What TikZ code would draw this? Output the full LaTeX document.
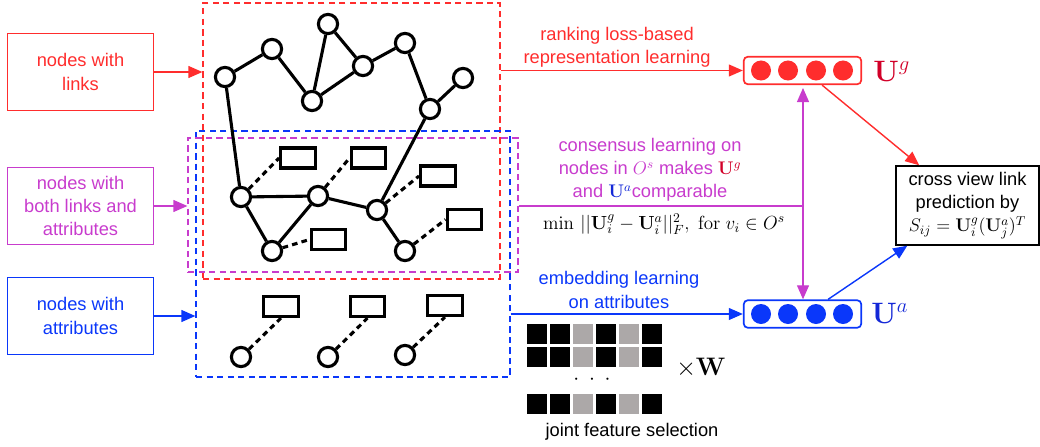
\RequirePackage{fix-cm}
\documentclass[tikz,border=0pt]{standalone}
\usepackage[no-math]{fontspec}
\setmainfont{Liberation Sans}
\usetikzlibrary{positioning}
\usetikzlibrary{arrows.meta}

\definecolor{linkred}{RGB}{255,45,45}
\definecolor{bothpink}{RGB}{200,60,205}
\definecolor{attrblue}{RGB}{10,55,250}
\definecolor{ugred}{RGB}{210,0,40}
\definecolor{uablue}{RGB}{20,40,215}
\definecolor{featgray}{RGB}{172,168,168}

\begin{document}
\begin{tikzpicture}[x=0.025cm, y=-0.025cm, every node/.style={font=\fontsize{13}{16.5}\selectfont},
    viewbox/.style={draw, line width=1.1pt, minimum width=3.65cm, minimum height=1.925cm, align=center, inner sep=0pt},
    region/.style={draw, line width=0.8pt, dash pattern=on 4.5pt off 3pt, inner sep=0pt},
    vert/.style={circle, draw, fill=white, line width=2.2pt, minimum size=0.48cm, inner sep=0pt},
    attr/.style={draw, fill=white, line width=2.2pt, minimum width=0.87cm, minimum height=0.5cm, inner sep=0pt},
    edge/.style={line width=2.2pt},
    attrlink/.style={line width=2.2pt, dash pattern=on 4pt off 3pt},
    flow/.style={line width=1pt, -{Triangle[length=10pt, width=8.5pt]}},
    vecbox/.style={draw, rounded corners=3pt, line width=1.2pt, minimum width=2.94cm, minimum height=0.69cm, inner sep=0pt},
    vecdot/.style={circle, minimum size=0.5cm, inner sep=0pt},
    veclbl/.style={font=\fontsize{21}{21}\selectfont, anchor=base west, inner sep=0pt},
    lbl/.style={align=center, inner sep=1pt}]
  \useasboundingbox (0,0) rectangle (1040,447);

  \node[viewbox, linkred] (links) at (80.5,72) {nodes with\\links};
  \node[viewbox, bothpink] (both) at (80.5,206) {nodes with\\both links and\\attributes};
  \node[viewbox, attrblue] (attrs) at (80.5,316) {nodes with\\attributes};

  \node[region, draw=linkred, minimum width=7.425cm, minimum height=6.9cm] (linkreg) at (351.5,141) {};
  \node[region, draw=attrblue, minimum width=7.85cm, minimum height=6.15cm] (attrreg) at (353,254) {};
  \node[region, draw=bothpink, minimum width=8.25cm, minimum height=3.35cm] (bothreg) at (353,205) {};

  \draw[flow, linkred] (links) -- (links -| linkreg.west);
  \draw[flow, bothpink] (both) -- (both -| bothreg.west);
  \draw[flow, attrblue] (attrs) -- (attrs -| attrreg.west);

  \node[vert] (v1) at (225,77) {};
  \node[vert] (v2) at (272,49) {};
  \node[vert] (v3) at (328,24) {};
  \node[vert] (v4) at (312,101) {};
  \node[vert] (v5) at (363,66) {};
  \node[vert] (v6) at (405,43) {};
  \node[vert] (v7) at (463,78) {};
  \node[vert] (v8) at (430,109) {};
  \node[vert] (v9) at (241,197) {};
  \node[vert] (v10) at (318,196) {};
  \node[vert] (v11) at (377,210) {};
  \node[vert] (v12) at (272,251) {};
  \node[vert] (v13) at (405,251) {};
  \node[vert] (v14) at (241,357) {};
  \node[vert] (v15) at (328,357) {};
  \node[vert] (v16) at (405,355) {};

  \node[attr] (a1) at (298,158) {};
  \node[attr] (a2) at (368.5,158) {};
  \node[attr] (a3) at (438,176) {};
  \node[attr] (a4) at (464.5,219.5) {};
  \node[attr] (a5) at (328.5,239.5) {};
  \node[attr] (a6) at (281,306.5) {};
  \node[attr] (a7) at (367.5,306.5) {};
  \node[attr] (a8) at (445,305.5) {};

  \draw[edge] (v1) -- (v2);
  \draw[edge] (v2) -- (v4);
  \draw[edge] (v4) -- (v3);
  \draw[edge] (v3) -- (v5);
  \draw[edge] (v4) -- (v5);
  \draw[edge] (v5) -- (v6);
  \draw[edge] (v6) -- (v8);
  \draw[edge] (v8) -- (v7);
  \draw[edge] (v1) -- (v9);
  \draw[edge] (v8) -- (v11);
  \draw[edge] (v9) -- (v10);
  \draw[edge] (v10) -- (v11);
  \draw[edge] (v9) -- (v12);
  \draw[edge] (v12) -- (v10);
  \draw[edge] (v11) -- (v13);

  \draw[attrlink] (v9) -- (a1.west);
  \draw[attrlink] (v10) -- (a2.west);
  \draw[attrlink] (v11) -- (a3.west);
  \draw[attrlink] (v13) -- (a4.west);
  \draw[attrlink] (v12) -- (a5.west);
  \draw[attrlink] (v14) -- (a6.south);
  \draw[attrlink] (v15) -- (a7.south);
  \draw[attrlink] (v16) -- (a8.south);

  \node[vecbox, draw=linkred] (ug) at (802.5,70.5) {};
  \node[vecdot, fill=linkred] (ug1) at (761,70.5) {};
  \node[vecdot, fill=linkred] (ug2) at (788,70.5) {};
  \node[vecdot, fill=linkred] (ug3) at (816,70.5) {};
  \node[vecdot, fill=linkred] (ug4) at (843,70.5) {};
  \node[veclbl, ugred] (uglbl) at (873,81) {$\mathbf{U}^g$};

  \node[vecbox, draw=attrblue] (ua) at (802.5,314) {};
  \node[vecdot, fill=attrblue] (ua1) at (761,314) {};
  \node[vecdot, fill=attrblue] (ua2) at (788,314) {};
  \node[vecdot, fill=attrblue] (ua3) at (816,314) {};
  \node[vecdot, fill=attrblue] (ua4) at (843,314) {};
  \node[veclbl, uablue] (ualbl) at (871,323) {$\mathbf{U}^a$};

  \node[draw, line width=1pt, align=center, minimum width=3.575cm, minimum height=1.975cm, inner sep=0pt] (pred) at (967.5,205.5) {cross view link\\prediction by\\$S_{ij}=\mathbf{U}_i^g(\mathbf{U}_j^a)^T$};

  \node[lbl, linkred] (ranklbl) at (617,47) {ranking loss-based\\representation learning};
  \node[lbl, bothpink] (conslbl) at (650,170) {consensus learning on\\nodes in $O^s$ makes {\color{ugred}$\mathbf{U}^g$}\\and {\color{uablue}$\mathbf{U}^a$}comparable};
  \node[lbl, font=\fontsize{13.5}{16.5}\selectfont] (objlbl) at (664,224) {$\min\,||\mathbf{U}_i^g-\mathbf{U}_i^a||_F^2,\ \mathrm{for}\ v_i\in O^s$};
  \node[lbl, attrblue] (emblbl) at (619,290) {embedding learning\\on attributes};

  \draw[flow, linkred] (linkreg.east |- ug) -- (ug);
  \draw[flow, attrblue] (attrreg.east |- ua) -- (ua);

  \coordinate (mix) at (803,206);
  \draw[line width=1pt, bothpink] (bothreg.east |- mix) -- (mix);
  \draw[flow, bothpink, shorten >=2pt] (mix) -- (mix |- ug.south);
  \draw[flow, bothpink] (mix) -- (mix |- ua.north);

  \draw[flow, linkred] ([xshift=0.49cm]ug.south) -- ([xshift=0.6cm]pred.north west);
  \draw[flow, attrblue] ([xshift=0.64cm]ua.north) -- ([xshift=0.3cm]pred.south west);

  \foreach \y in {324,347,394} {
    \foreach \x/\c in {527/black,550/black,573/featgray,596/black,619/featgray,642/black}
      \fill[\c] (\x,\y) rectangle ++(20,20);
  }
  \node[lbl, font=\fontsize{15}{15}\selectfont] (dots) at (592,380) {${\cdot}\hspace{7pt}{\cdot}\hspace{7pt}{\cdot}$};
  \node[lbl, font=\fontsize{18}{18}\selectfont] (timesw) at (701,368) {$\times\mathbf{W}$};
  \node[lbl] (jointlbl) at (632,432) {joint feature selection};
\end{tikzpicture}
\end{document}
